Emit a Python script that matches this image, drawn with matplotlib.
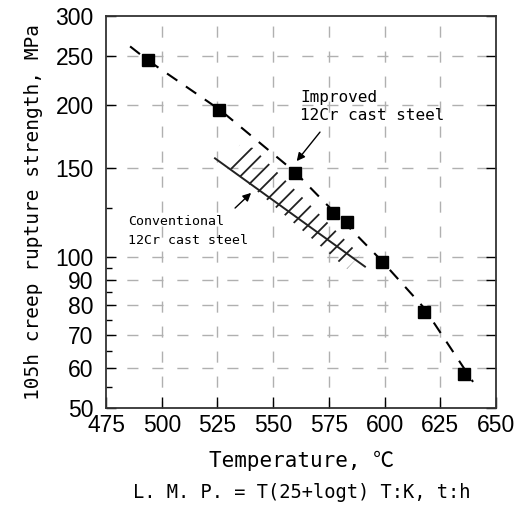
import matplotlib
matplotlib.use("Agg")
import matplotlib.pyplot as plt
from matplotlib import font_manager
from matplotlib.ticker import FixedLocator, NullFormatter


def pick_font(names):
    for n in names:
        try:
            font_manager.findfont(n, fallback_to_default=False)
            return n
        except Exception:
            pass
    return "DejaVu Sans"


NARROW = pick_font(["Liberation Sans Narrow", "Liberation Sans", "DejaVu Sans"])
MONO = pick_font(["DejaVu Sans Mono", "Liberation Mono"])

# improved 12Cr cast steel, measured points
temp_pts = [494.0, 525.8, 559.8, 576.7, 583.0, 598.7, 617.8, 635.6]
stress_pts = [245, 195, 146.2, 122.2, 117.2, 97.4, 77.7, 58.4]

# dashed trend curve
curve_t = [485.8, 494.0, 526.2, 559.8, 598.4, 617.7, 639.7]
curve_s = [261.1, 244.6, 195.3, 147.1, 98.4, 79.1, 56.4]

# conventional 12Cr cast steel band (outline) and its boundary line
band_t = [529.7, 535.1, 541.0, 589.0, 583.1]
band_s = [151.2, 166.5, 164.2, 100.7, 94.5]
line_t = [523.9, 591.2]
line_s = [156.6, 95.5]

xticks = [475, 500, 525, 550, 575, 600, 625, 650]
yticks = [50, 60, 70, 80, 90, 100, 150, 200, 250, 300]
yminor = [55, 65, 75, 85, 95, 125]
ygrid = [60, 70, 80, 90, 100, 150, 200, 250]

plt.rcParams["hatch.linewidth"] = 1.3

fig = plt.figure(figsize=(5.21, 5.08), dpi=100)
ax = fig.add_axes([0.2035, 0.1963, 0.7485, 0.7722])
ax.set_yscale("log")
ax.set_xlim(475, 650)
ax.set_ylim(50, 300)

# grid
for x in xticks[1:-1]:
    ax.axvline(x, color="#b0b0b0", lw=1.0, ls=(3, (8, 10)), zorder=0)
for y in ygrid:
    ax.axhline(y, color="#b0b0b0", lw=1.0, ls=(3, (8, 10)), zorder=0)

ax.fill(band_t, band_s, facecolor="none", edgecolor="#222222", hatch="//", lw=0, zorder=2)
ax.plot(line_t, line_s, color="#222222", lw=1.4, zorder=3)

ax.plot(curve_t, curve_s, color="black", lw=1.5, ls=(0, (6, 5)), zorder=3)
ax.plot(temp_pts, stress_pts, "s", color="black", ms=8, zorder=4)

ax.text(562, 198, "Improved\n12Cr cast steel", fontfamily=MONO, fontsize=11.5,
        ha="left", va="center", linespacing=1.25)
ax.annotate("", xy=(559.8, 153.1), xytext=(571.8, 178.3),
            arrowprops=dict(arrowstyle="-|>", color="black", lw=1.0, mutation_scale=12))
ax.text(484.9, 112.5, "Conventional\n12Cr cast steel", fontfamily=MONO, fontsize=9.5,
        ha="left", va="center", linespacing=1.6)
ax.annotate("", xy=(541.0, 134.9), xytext=(532.0, 123.7),
            arrowprops=dict(arrowstyle="-|>", color="black", lw=1.0, mutation_scale=12))

ax.xaxis.set_major_locator(FixedLocator(xticks))
ax.yaxis.set_major_locator(FixedLocator(yticks))
ax.yaxis.set_minor_locator(FixedLocator(yminor))
ax.yaxis.set_minor_formatter(NullFormatter())
ax.set_xticklabels([str(v) for v in xticks], fontfamily=NARROW, fontsize=16.5)
ax.set_yticklabels([str(v) for v in yticks], fontfamily=NARROW, fontsize=16.5)
ax.tick_params(axis="x", direction="in", length=8, width=1, pad=4, top=False)
ax.tick_params(axis="y", which="major", direction="in", length=7, width=1, pad=9, right=True)
ax.tick_params(axis="y", which="minor", direction="in", length=4, width=1, right=False)

for s in ax.spines.values():
    s.set_linewidth(1.3)
    s.set_color("#333333")

ax.set_ylabel("105h creep rupture strength, MPa", fontfamily=MONO, fontsize=14, labelpad=9)
fig.text(0.578, 1 - 461 / 508, "Temperature, ℃", family=[MONO, "Noto Sans CJK JP"], fontsize=15,
         ha="center", va="center")
fig.text(0.58, 1 - 493 / 508, "L. M. P. = T(25+logt) T:K, t:h", fontfamily=MONO, fontsize=13.5,
         ha="center", va="center")

fig.savefig("out.png", dpi=100)
